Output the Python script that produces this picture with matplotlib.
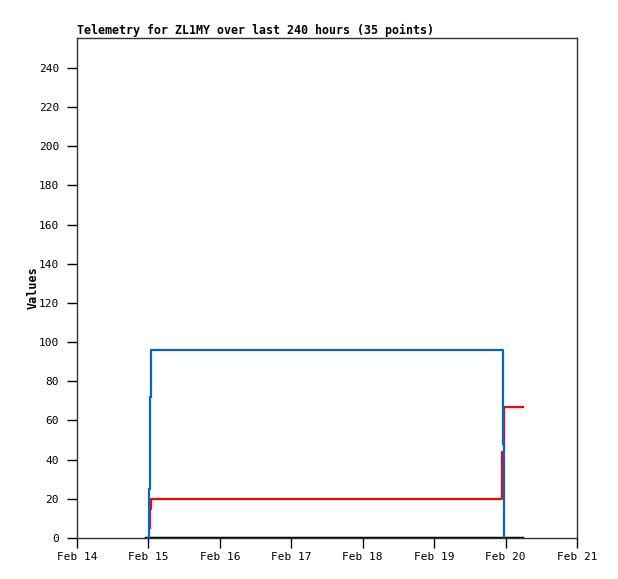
import matplotlib
matplotlib.use("Agg")
import matplotlib.pyplot as plt
import matplotlib.dates as mdates
from datetime import datetime, timedelta

base = datetime(2024, 2, 14)
# hours since Feb 14 00:00
blue_hours = [24.0, 24.3, 24.5, 24.9, 143.1, 143.5]
blue_vals = [0, 25, 72, 96, 48, 0]
red_hours = [24.5, 24.65, 24.9, 142.8, 143.5, 149.8]
red_vals = [5, 15, 20, 44, 67, 67]
black_hours = [23.2, 149.5]
black_vals = [0, 0]

xtick_days = list(range(14, 22))
yticks = list(range(0, 241, 20))

def to_dt(hs):
    return [base + timedelta(hours=h) for h in hs]

fig = plt.figure(figsize=(6.18, 5.79), dpi=100)
ax = fig.add_axes([77/618, 41/579, 500/618, 500/579])

ax.step(to_dt(black_hours), black_vals, where="post", color="black", lw=2.5)
ax.step(to_dt(red_hours), red_vals, where="post", color="#ff0000", lw=1.6)
ax.step(to_dt(blue_hours), blue_vals, where="post", color="#0066cc", lw=1.6)

ax.set_xlim(datetime(2024, 2, 14), datetime(2024, 2, 21))
ax.set_ylim(0, 255.3)
ax.set_xticks([datetime(2024, 2, d) for d in xtick_days])
ax.xaxis.set_major_formatter(mdates.DateFormatter("%b %d"))
ax.set_yticks(yticks)

mono = "DejaVu Sans Mono"
for lab in ax.get_xticklabels() + ax.get_yticklabels():
    lab.set_fontfamily(mono)
    lab.set_fontsize(8)
ax.tick_params(direction="out", length=7, width=1)
ax.tick_params(axis="x", pad=3)
ax.tick_params(axis="y", pad=6)
for s in ax.spines.values():
    s.set_linewidth(1)
    s.set_color("#333333")

ax.set_ylabel("Values", fontfamily=mono, fontweight="bold", fontsize=8.5, labelpad=-1)
ax.set_title("Telemetry for ZL1MY over last 240 hours (35 points)",
             fontfamily=mono, fontweight="bold", fontsize=8.35, loc="left", pad=3)

fig.savefig("out.png", dpi=100)
